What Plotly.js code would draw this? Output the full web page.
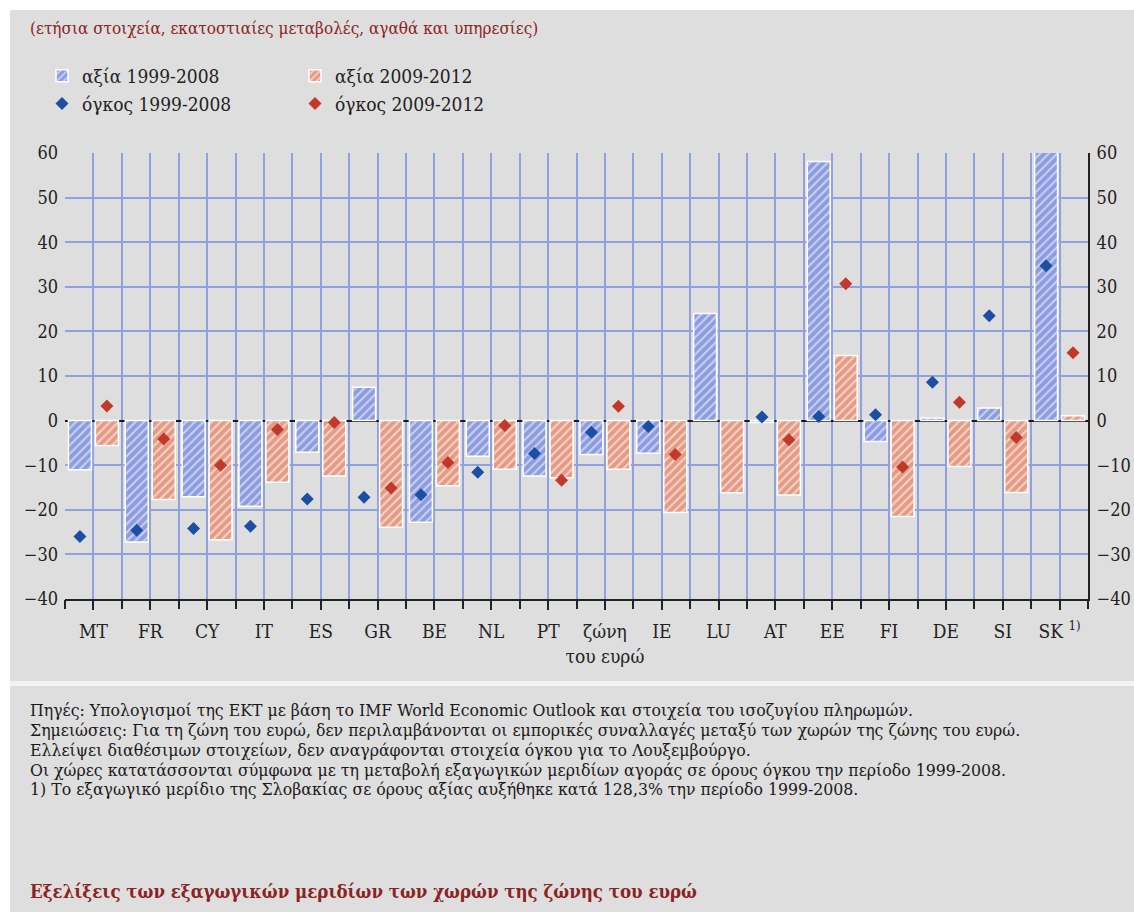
<!DOCTYPE html>
<html>
<head>
<meta charset="utf-8">
<script src="https://cdn.plot.ly/plotly-3.0.1.min.js"></script>
<style>html,body{margin:0;padding:0;background:#fff;}#chart{width:1134px;height:912px;}</style>
</head>
<body>
<div id="chart"></div>
<script>
// ---- data ----
const categories = ['MT','FR','CY','IT','ES','GR','BE','NL','PT','ζώνη<br>του ευρώ','IE','LU','AT','EE','FI','DE','SI','SK <sup>1)</sup>'];
const value1999_2008 = [-11, -27.2, -17.1, -19.2, -7.1, 7.5, -22.8, -8.0, -12.4, -7.6, -7.3, 24.0, -0.4, 58.1, -4.7, 0.6, 2.8, 128.3];
const value2009_2012 = [-5.6, -17.7, -26.7, -13.8, -12.4, -23.9, -14.6, -10.9, -12.8, -10.9, -20.6, -16.2, -16.7, 14.6, -21.5, -10.3, -16.1, 1.1];
const volume1999_2008 = [-26.0, -24.6, -24.2, -23.7, -17.6, -17.2, -16.6, -11.6, -7.4, -2.6, -1.3, null, 0.8, 0.9, 1.3, 8.6, 23.5, 34.7];
const volume2009_2012 = [3.3, -4.1, -10.0, -2.0, -0.4, -15.1, -9.4, -1.1, -13.4, 3.2, -7.6, null, -4.3, 30.7, -10.4, 4.1, -3.8, 15.2];
const seriesNames = ['αξία 1999-2008', 'αξία 2009-2012', 'όγκος 1999-2008', 'όγκος 2009-2012'];
const yTicks = [-40, -30, -20, -10, 0, 10, 20, 30, 40, 50, 60];

const subtitle = '(ετήσια στοιχεία, εκατοστιαίες μεταβολές, αγαθά και υπηρεσίες)';
const noteLines = [
  'Πηγές: Υπολογισμοί της ΕΚΤ με βάση το IMF World Economic Outlook και στοιχεία του ισοζυγίου πληρωμών.',
  'Σημειώσεις: Για τη ζώνη του ευρώ, δεν περιλαμβάνονται οι εμπορικές συναλλαγές μεταξύ των χωρών της ζώνης του ευρώ.',
  'Ελλείψει διαθέσιμων στοιχείων, δεν αναγράφονται στοιχεία όγκου για το Λουξεμβούργο.',
  'Οι χώρες κατατάσσονται σύμφωνα με τη μεταβολή εξαγωγικών μεριδίων αγοράς σε όρους όγκου την περίοδο 1999-2008.',
  '1) Το εξαγωγικό μερίδιο της Σλοβακίας σε όρους αξίας αυξήθηκε κατά 128,3% την περίοδο 1999-2008.'
];
const bottomTitle = 'Εξελίξεις των εξαγωγικών μεριδίων των χωρών της ζώνης του ευρώ';

// ---- geometry helpers (pixel -> paper) ----
const W = 1134, H = 912, ML = 65, MR = 46, MT = 153, MB = 313;
const PW = W - ML - MR, PH = H - MT - MB;
const px = x => (x - ML) / PW;
const py = y => (H - MB - y) / PH;

const SERIF = '"DejaVu Serif Condensed", "DejaVu Serif", "Liberation Serif", serif';
const GRID = '#8fa1e0';
const BG = '#dedede';

const traces = [
  {type:'bar', name:seriesNames[0], x:categories, y:value1999_2008, offsetgroup:'a', legend:'legend',
   marker:{color:'#8c9cdf', line:{color:'#ffffff', width:1.5},
           pattern:{shape:'/', bgcolor:'#8c9cdf', fgcolor:'#c9d1f3', fgopacity:1, size:6, solidity:0.35}}},
  {type:'bar', name:seriesNames[1], x:categories, y:value2009_2012, offsetgroup:'b', legend:'legend2',
   marker:{color:'#e49a84', line:{color:'#ffffff', width:1.5},
           pattern:{shape:'/', bgcolor:'#e49a84', fgcolor:'#f5d3c7', fgopacity:1, size:6, solidity:0.35}}},
  {type:'scatter', mode:'markers', name:seriesNames[2], x:categories, y:volume1999_2008, offsetgroup:'a', legend:'legend',
   marker:{symbol:'diamond', color:'#1c4fa3', size:10}},
  {type:'scatter', mode:'markers', name:seriesNames[3], x:categories, y:volume2009_2012, offsetgroup:'b', legend:'legend2',
   marker:{symbol:'diamond', color:'#c0392b', size:10}},
  // helper trace for boundary grid lines
  {type:'scatter', mode:'markers', x:categories, y:categories.map(()=>null), xaxis:'x2', yaxis:'y',
   showlegend:false, hoverinfo:'skip', marker:{opacity:0}},
  // helper trace for right axis
  {type:'scatter', mode:'markers', x:categories, y:categories.map(()=>null), xaxis:'x', yaxis:'y2',
   showlegend:false, hoverinfo:'skip', marker:{opacity:0}}
];

const tickFont = {family:SERIF, size:18, color:'#222'};

const layout = {
  width:W, height:H,
  margin:{l:ML, r:MR, t:MT, b:MB, pad:0},
  paper_bgcolor:'#ffffff', plot_bgcolor:'rgba(0,0,0,0)',
  barmode:'group', bargap:0.05, bargroupgap:0.15,
  scattermode:'group', scattergap:0.05,
  font:{family:SERIF, color:'#222'},
  xaxis:{type:'category', categoryorder:'array', categoryarray:categories, range:[-0.5, 17.5],
         showgrid:true, gridcolor:GRID, gridwidth:2, ticks:'outside', ticklen:9, tickwidth:2, tickcolor:'#222',
         showline:true, linecolor:'#222', linewidth:2, tickfont:{family:SERIF, size:19, color:'#222'},
         ticklabelstandoff:5, tickangle:0, fixedrange:true},
  xaxis2:{type:'category', overlaying:'x', anchor:'y', side:'bottom', categoryorder:'array', categoryarray:categories,
          range:[-0.5, 17.5], tickson:'boundaries', showgrid:true, gridcolor:GRID, gridwidth:2,
          ticks:'outside', ticklen:9, tickwidth:2, tickcolor:'#222', showticklabels:false, fixedrange:true},
  yaxis:{range:[-40, 60], tickvals:yTicks, showgrid:true, gridcolor:GRID, gridwidth:2,
         zeroline:true, zerolinecolor:'#1a1a1a', zerolinewidth:2, showline:false, ticks:'',
         tickfont:tickFont, ticklabelstandoff:6, fixedrange:true},
  yaxis2:{range:[-40, 60], tickvals:yTicks, overlaying:'y', side:'right', showgrid:false, zeroline:false,
          showline:true, linecolor:'#222', linewidth:2, ticks:'', tickfont:tickFont, ticklabelstandoff:3, fixedrange:true},
  legend:{x:px(42), y:py(57), xanchor:'left', yanchor:'top', bgcolor:'rgba(0,0,0,0)',
          font:{family:SERIF, size:19, color:'#222'}, tracegroupgap:0, orientation:'v'},
  legend2:{x:px(295), y:py(57), xanchor:'left', yanchor:'top', bgcolor:'rgba(0,0,0,0)',
          font:{family:SERIF, size:19, color:'#222'}, tracegroupgap:0, orientation:'v'},
  shapes:[
    {type:'rect', xref:'paper', yref:'paper', layer:'below', x0:px(10), x1:px(W), y0:py(H), y1:py(10),
     fillcolor:BG, line:{width:0}},
    {type:'rect', xref:'paper', yref:'paper', layer:'below', x0:px(10), x1:px(W), y0:py(686), y1:py(681),
     fillcolor:'#f3f3f3', line:{width:0}}
  ],
  annotations:[
    {xref:'paper', yref:'paper', x:px(28), y:py(28), xanchor:'left', yanchor:'middle', showarrow:false,
     text:subtitle, font:{family:SERIF, size:17, color:'#8b2323'}},
    {xref:'paper', yref:'paper', x:px(28), y:py(891), xanchor:'left', yanchor:'middle', showarrow:false,
     text:'<b>'+bottomTitle+'</b>', font:{family:SERIF, size:18.5, color:'#8b2323'}}
  ].concat(noteLines.map((t, i) => ({
     xref:'paper', yref:'paper', x:px(28), y:py([710, 730, 750, 770, 789][i]), xanchor:'left', yanchor:'middle',
     showarrow:false, text:t, font:{family:SERIF, size:17.5, color:'#1a1a1a'}})))
};

Plotly.newPlot('chart', traces, layout, {displayModeBar:false, staticPlot:true});
</script>
</body>
</html>
